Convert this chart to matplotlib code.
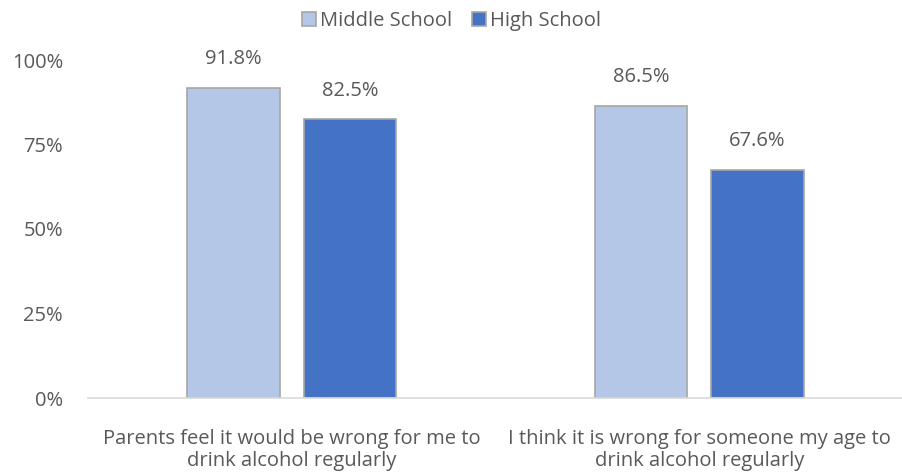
import matplotlib
matplotlib.use("Agg")
import matplotlib.pyplot as plt
import numpy as np

categories = ["Parents feel it would be wrong for me to\ndrink alcohol regularly",
              "I think it is wrong for someone my age to\ndrink alcohol regularly"]
series_names = ["Middle School", "High School"]
middle_school = [91.8, 86.5]
high_school = [82.5, 67.6]
colors = ["#b4c7e7", "#4472c4"]
yticks = [0, 25, 50, 75, 100]

plt.rcParams['font.family'] = ['Open Sans', 'DejaVu Sans']
text_color = "#595959"
fs = 14.5

fig = plt.figure(figsize=(9.03, 4.72), dpi=100)
ax = fig.add_axes([88/903, 1 - 398/472, (903 - 88)/903, 338/472])

x = np.arange(len(categories))
width = 0.228
offset = 0.143
for vals, name, col, sgn in [(middle_school, series_names[0], colors[0], -1),
                             (high_school, series_names[1], colors[1], 1)]:
    bars = ax.bar(x + sgn * offset, vals, width, color=col, edgecolor="#a6a6a6",
                  linewidth=1.2, label=name, zorder=2)
    for b, v in zip(bars, vals):
        ax.text(b.get_x() + b.get_width() / 2, v + 5.5, f"{v:.1f}%", ha="center",
                va="bottom", fontsize=fs, color=text_color)

ax.set_xlim(-0.5, 1.5)
ax.set_ylim(0, 100)
ax.set_yticks(yticks)
ax.set_yticklabels([f"{t}%" for t in yticks])
ax.set_xticks(x)
ax.set_xticklabels(categories, fontsize=fs, color=text_color, linespacing=1.15)
ax.tick_params(axis="y", length=0, labelsize=fs, labelcolor=text_color, pad=18)
ax.tick_params(axis="x", length=0, pad=22)
for s in ["top", "right", "left"]:
    ax.spines[s].set_visible(False)
ax.spines["bottom"].set_color("#d9d9d9")
ax.spines["bottom"].set_linewidth(1.2)

leg = fig.legend(loc="upper center", bbox_to_anchor=(0.5, 1.015), ncol=2, frameon=False,
                 fontsize=fs, handlelength=0.7, handleheight=0.7, handletextpad=0.2,
                 columnspacing=1.0)
for t in leg.get_texts():
    t.set_color(text_color)

fig.savefig("out.png", dpi=100)
